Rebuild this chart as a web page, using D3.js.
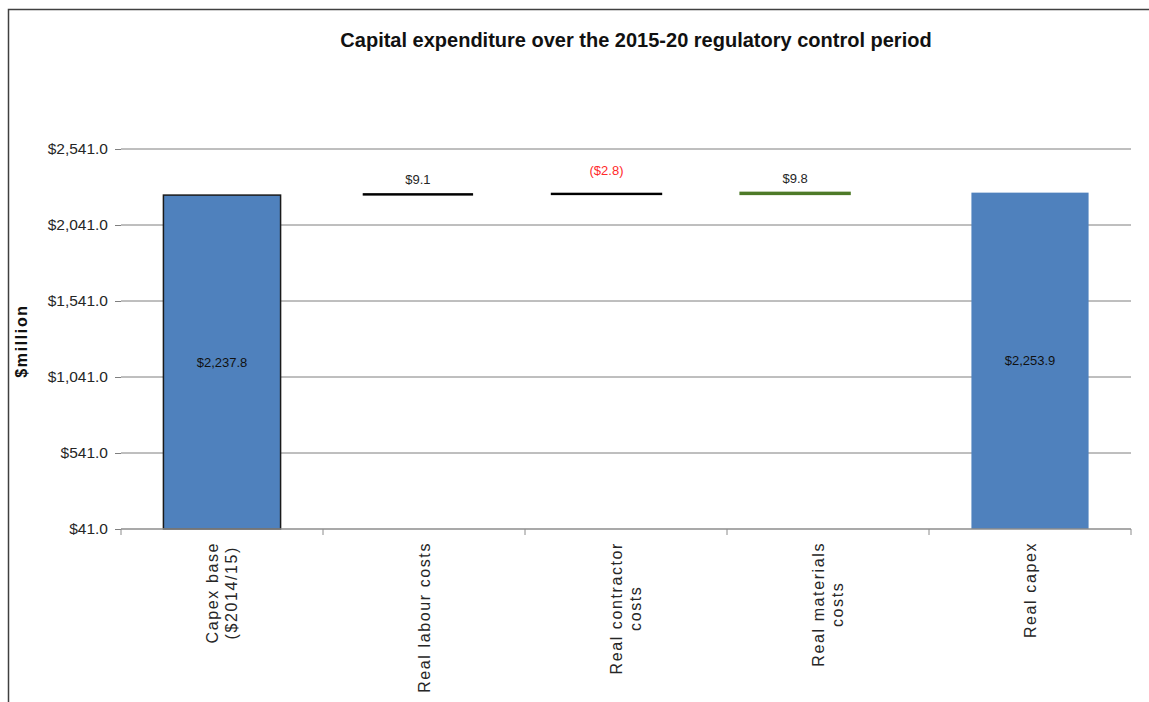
<!DOCTYPE html>
<html>
<head>
<meta charset="utf-8">
<script src="https://cdn.jsdelivr.net/npm/d3@7"></script>
<style>
  html, body { margin: 0; padding: 0; background: #fff; }
  svg { display: block; font-family: "Liberation Sans", Arial, sans-serif; }
</style>
</head>
<body>
<svg id="chart" width="1149" height="702"></svg>
<script>
// Waterfall: capex base, three real cost escalators, resulting real capex ($million)
const categories = [
  ["Capex base", "($2014/15)"],
  ["Real labour costs"],
  ["Real contractor", "costs"],
  ["Real materials", "costs"],
  ["Real capex"]
];
const kinds = ["total", "delta", "delta", "delta", "total"];
const values = [2237.8, 9.1, -2.8, 9.8, 2253.9];
const valueLabels = ["$2,237.8", "$9.1", "($2.8)", "$9.8", "$2,253.9"];
const yTicks = [41, 541, 1041, 1541, 2041, 2541];
const yDomain = [41, 2541];

const svg = d3.select("#chart");
const W = 1149, H = 702;
const margin = { left: 121, right: 18, top: 149, bottom: 173 };
const plotW = W - margin.left - margin.right;
const plotH = H - margin.top - margin.bottom;

// outer frame
svg.append("rect")
  .attr("x", 8.5).attr("y", 9.5)
  .attr("width", W + 20).attr("height", H + 20)
  .attr("fill", "none").attr("stroke", "#404040").attr("stroke-width", 1.5);

svg.append("text")
  .attr("x", 636).attr("y", 47)
  .attr("text-anchor", "middle")
  .attr("font-weight", "bold").attr("font-size", 20)
  .attr("fill", "#111")
  .text("Capital expenditure over the 2015-20 regulatory control period");

const g = svg.append("g").attr("transform", `translate(${margin.left},${margin.top})`);

const x = d3.scaleBand().domain(d3.range(categories.length)).range([0, plotW]).paddingInner(0.42).paddingOuter(0.21);
// the escalator segments sit on a slightly narrower band layout
const xDelta = d3.scaleBand().domain(d3.range(categories.length)).range([14, plotW - 53]).paddingInner(0.42).paddingOuter(0.21);
const y = d3.scaleLinear().domain(yDomain).range([plotH, 0]);

// gridlines
g.append("g")
  .selectAll("line").data(yTicks.slice(1)).join("line")
  .attr("x1", 0).attr("x2", plotW)
  .attr("y1", d => y(d)).attr("y2", d => y(d))
  .attr("stroke", "#7f7f7f").attr("stroke-width", 1);

// y axis (no domain line)
const yAxis = g.append("g")
  .call(d3.axisLeft(y).tickValues(yTicks).tickSize(6).tickPadding(7)
    .tickFormat(d => "$" + d3.format(",.1f")(d)));
yAxis.select(".domain").remove();
yAxis.selectAll(".tick line").attr("stroke", "#7f7f7f");
yAxis.selectAll(".tick text")
  .attr("font-size", 15.5).attr("fill", "#262626")
  .attr("font-family", "Liberation Sans, Arial, sans-serif");

// waterfall geometry
let running = 0;
const bars = values.map((v, i) => {
  let lo, hi;
  if (kinds[i] === "total") { lo = yDomain[0]; hi = v; running = v; }
  else { const start = running; running += v; lo = Math.min(start, running); hi = Math.max(start, running); }
  return { i, v, lo, hi, kind: kinds[i], label: valueLabels[i] };
});

const totals = bars.filter(b => b.kind === "total");
const deltas = bars.filter(b => b.kind === "delta");
const deltaStroke = ["#000", "#000", "#4e7a28"];
const deltaWidth = [2, 3, 3];

g.selectAll("rect.total").data(totals).join("rect")
  .attr("class", "total")
  .attr("x", d => x(d.i)).attr("width", x.bandwidth())
  .attr("y", d => y(d.hi)).attr("height", d => y(d.lo) - y(d.hi))
  .attr("fill", "#4f81bd")
  .attr("stroke", d => d.i === 0 ? "#1a1a1a" : "none")
  .attr("stroke-width", 1.5);

g.selectAll("rect.delta").data(deltas).join("rect")
  .attr("class", "delta")
  .attr("x", d => xDelta(d.i)).attr("width", xDelta.bandwidth())
  .attr("y", d => y(d.hi)).attr("height", d => Math.max(0.1, y(d.lo) - y(d.hi)))
  .attr("fill", (d, k) => deltaStroke[k])
  .attr("stroke", (d, k) => deltaStroke[k])
  .attr("stroke-width", (d, k) => deltaWidth[k] - 1);

// x axis baseline with ticks between categories
const xAxisG = g.append("g").attr("transform", `translate(0,${plotH})`);
xAxisG.append("line").attr("x1", 0).attr("x2", plotW).attr("y1", 0).attr("y2", 0)
  .attr("stroke", "#8c8c8c").attr("stroke-width", 1.5);
xAxisG.selectAll("line.tk").data(d3.range(categories.length + 1)).join("line")
  .attr("class", "tk")
  .attr("x1", d => d * x.step()).attr("x2", d => d * x.step())
  .attr("y1", 0).attr("y2", 6)
  .attr("stroke", "#8c8c8c");

// rotated category labels: block hangs from the axis, lines centred on each other
const lineH = 19;
const catTop = 13;
const cats = xAxisG.selectAll("text.cat").data(categories).join("text")
  .attr("class", "cat")
  .attr("text-anchor", "middle")
  .attr("font-size", 16).attr("fill", "#262626")
  .attr("letter-spacing", 1.6);
cats.selectAll("tspan").data(d => d.map((t, k) => ({ t, k, n: d.length }))).join("tspan")
  .attr("x", 0)
  .attr("y", d => (d.k - (d.n - 1) / 2) * lineH)
  .attr("dy", "0.35em")
  .text(d => d.t);
cats.each(function (d, i) {
  const longest = d3.max(d3.select(this).selectAll("tspan").nodes(), n => n.getComputedTextLength());
  d3.select(this).attr("transform",
    `translate(${x(i) + x.bandwidth() / 2},${catTop + longest / 2}) rotate(-90)`);
});

// value labels
g.selectAll("text.tv").data(totals).join("text")
  .attr("class", "tv")
  .attr("x", d => x(d.i) + x.bandwidth() / 2)
  .attr("y", d => (y(d.hi) + y(d.lo)) / 2)
  .attr("dy", "0.35em").attr("text-anchor", "middle")
  .attr("font-size", 13).attr("fill", "#111")
  .text(d => d.label);

g.selectAll("text.dv").data(deltas).join("text")
  .attr("class", "dv")
  .attr("x", d => xDelta(d.i) + xDelta.bandwidth() / 2)
  .attr("y", d => y(d.hi) - (d.v < 0 ? 23 : 14))
  .attr("dy", "0.35em").attr("text-anchor", "middle")
  .attr("font-size", 13)
  .attr("fill", d => d.v < 0 ? "#ff2a2a" : "#262626")
  .text(d => d.label);

// y axis title
svg.append("text")
  .attr("transform", "translate(21,341) rotate(-90)")
  .attr("text-anchor", "middle").attr("dy", "0.35em")
  .attr("font-weight", "bold").attr("font-size", 16)
  .attr("letter-spacing", 1.6)
  .attr("fill", "#111")
  .text("$million");
</script>
</body>
</html>
